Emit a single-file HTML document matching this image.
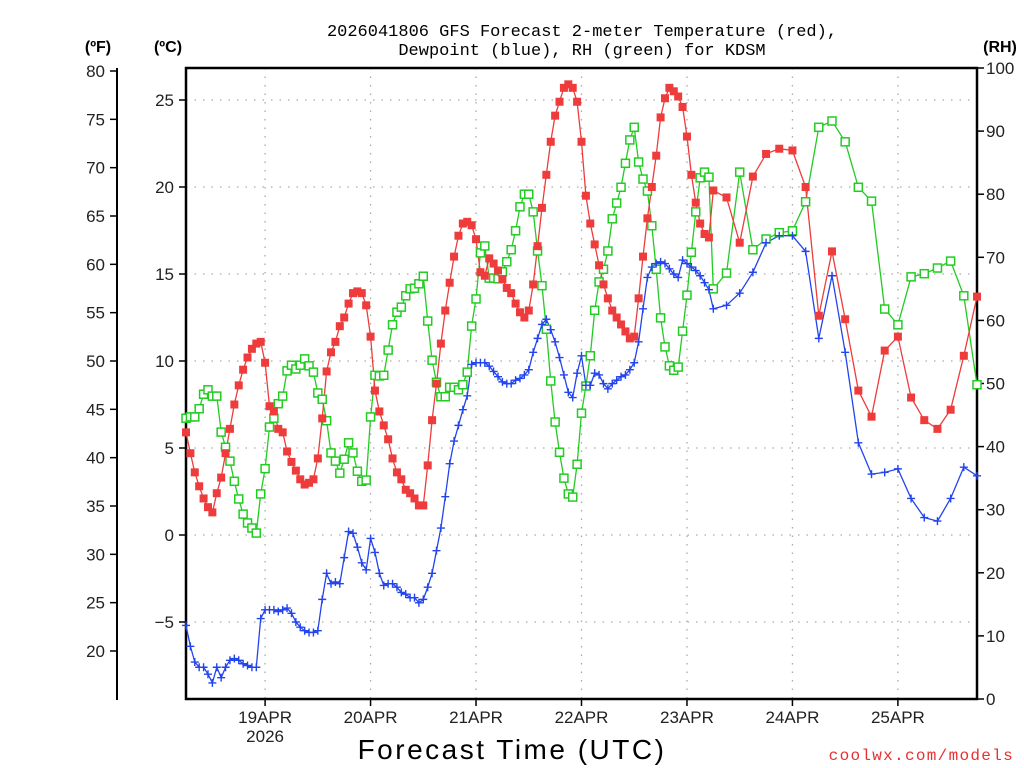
<!DOCTYPE html>
<html><head><meta charset="utf-8">
<style>
html,body{margin:0;padding:0;background:#fff;}
svg{display:block;font-family:"Liberation Sans","DejaVu Sans",sans-serif;}
</style></head>
<body>
<svg id="chart" width="1024" height="768" viewBox="0 0 1024 768" xmlns="http://www.w3.org/2000/svg">
<rect width="1024" height="768" fill="#fff"/>
<g id="grid"></g>
<g id="axes"></g>
<g id="series"></g>
<text x="582" y="36" font-size="17" text-anchor="middle" font-family="Liberation Mono, monospace">2026041806 GFS Forecast 2-meter Temperature (red),</text>
<text x="582" y="55" font-size="17" text-anchor="middle" font-family="Liberation Mono, monospace">Dewpoint (blue), RH (green) for KDSM</text>
<text x="98" y="52" font-size="16" font-weight="bold" text-anchor="middle">(ºF)</text>
<text x="168" y="52" font-size="16" font-weight="bold" text-anchor="middle">(ºC)</text>
<text x="1000" y="52" font-size="16" font-weight="bold" text-anchor="middle">(RH)</text>
<text x="512" y="759" font-size="28" text-anchor="middle" letter-spacing="2.5">Forecast Time (UTC)</text>
<text x="1014" y="760" font-size="16" fill="#e83030" text-anchor="end" letter-spacing="1.3" font-family="Liberation Mono, monospace">coolwx.com/models</text>
</svg>
<script>
// Hours since 2026041806 init
const hourlyCount = 121;
const extHours = [123,126,129,132,135,138,141,144,147,150,153,156,159,162,165,168,171,174,177,180];
const dayLabels = ["19APR","20APR","21APR","22APR","23APR","24APR","25APR"];
const dayHours = [18,42,66,90,114,138,162];
const celsiusTicks = [-5,0,5,10,15,20,25];
const fahrenheitTicks = [20,25,30,35,40,45,50,55,60,65,70,75,80];
const rhTicks = [0,10,20,30,40,50,60,70,80,90,100];

const tempC = [5.9,4.7,3.6,2.8,2.1,1.6,1.3,2.4,3.3,4.7,6.1,7.5,8.6,9.5,10.2,10.7,11.0,11.1,9.9,7.4,
7.1,6.1,5.9,4.8,4.2,3.7,3.2,2.9,3.0,3.2,4.4,6.7,9.4,10.5,11.1,12.0,12.5,13.3,13.9,14.0,
13.9,13.2,11.4,8.3,7.1,6.3,5.5,4.4,3.6,3.2,2.6,2.4,2.1,1.7,1.7,4.0,6.6,8.7,11.0,12.9,
14.5,16.0,17.2,17.9,18.0,17.8,17.0,15.1,14.9,15.9,15.6,15.2,14.7,14.2,13.9,13.3,12.8,12.5,12.9,14.4,
16.6,18.8,20.7,22.6,24.1,24.9,25.7,25.9,25.7,24.9,22.6,19.5,17.9,16.7,15.5,14.4,13.6,12.9,12.5,12.1,
11.7,11.3,11.4,13.6,16.0,18.2,20.0,21.8,24.0,25.1,25.7,25.5,25.2,24.6,22.9,20.7,19.1,17.9,17.3,17.1,
19.8,
19.4,16.8,20.6,21.9,22.2,22.1,20.0,12.6,16.3,12.4,8.3,6.8,10.6,11.4,7.9,6.6,6.1,7.2,10.3,13.7];

const dewC = [-5.2,-6.4,-7.3,-7.6,-7.6,-8.0,-8.5,-7.6,-8.2,-7.6,-7.2,-7.1,-7.2,-7.4,-7.5,-7.6,-7.6,-4.8,-4.3,-4.3,
-4.3,-4.4,-4.3,-4.2,-4.5,-5.0,-5.3,-5.5,-5.6,-5.6,-5.5,-3.7,-2.2,-2.8,-2.7,-2.8,-1.3,0.2,0.1,-0.7,
-1.6,-2.0,-0.2,-1.0,-2.2,-2.9,-2.8,-2.8,-3.0,-3.3,-3.4,-3.6,-3.6,-3.9,-3.7,-3.0,-2.2,-0.9,0.4,2.2,
4.1,5.4,6.3,7.2,8.0,9.8,9.9,9.9,9.9,9.7,9.4,9.1,8.8,8.7,8.7,8.9,9.0,9.2,9.5,10.5,
11.3,12.1,12.4,11.8,11.1,10.2,9.2,8.2,7.9,9.3,10.3,8.6,8.6,9.3,9.2,8.7,8.4,8.7,8.9,9.1,
9.2,9.5,9.9,11.1,13.0,14.8,15.4,15.6,15.7,15.6,15.3,15.0,14.8,15.8,15.6,15.4,15.2,14.9,14.5,14.1,
13.0,
13.2,13.9,15.1,16.8,17.2,17.2,16.3,11.3,14.9,10.5,5.3,3.5,3.6,3.8,2.1,1.0,0.8,2.1,3.9,3.4];

const rhPct = [44.5,44.7,44.7,46.0,48.3,49.0,48.0,48.0,42.3,39.9,37.7,34.5,31.7,29.3,27.9,27.1,26.3,32.5,36.5,43.1,
44.5,46.8,48.0,52.0,52.9,52.3,52.9,53.9,52.8,51.8,48.5,47.5,44.1,39.0,37.7,35.8,38.0,40.6,39.0,36.1,
34.5,34.7,44.7,51.3,51.2,51.3,55.3,59.3,61.3,62.1,63.9,65.0,65.1,65.8,67.0,59.9,53.7,50.2,47.9,47.9,
49.4,49.4,49.0,49.8,51.8,59.1,63.4,70.7,71.8,66.7,66.7,66.6,67.7,69.3,71.2,74.2,78.0,80.0,80.0,77.2,
71.0,65.5,58.6,50.4,43.9,39.1,35.0,32.5,32.0,37.2,45.3,49.6,54.4,61.6,66.1,68.1,71.0,76.1,78.6,81.1,
84.9,88.6,90.6,85.1,82.4,80.5,75.0,68.1,60.4,55.8,52.8,52.1,52.6,58.3,64.0,70.8,77.2,82.6,83.5,82.7,
65.0,
67.5,83.5,71.2,72.9,73.9,74.2,78.8,90.6,91.6,88.3,81.1,78.9,61.8,59.3,66.9,67.4,68.3,69.4,63.9,49.8];

// axis functions
const X0=186, X1=977, Y0=68, Y1=699;
const PXH=(X1-X0)/180;
function xh(h){return X0+h*PXH;}
function yC(c){return 535-c*17.4;}
function yF(f){return yC((f-32)*5/9);}
function yRH(r){return Y1-r*(Y1-Y0)/100;}
const hours=[];
for(let i=0;i<hourlyCount;i++)hours.push(i);
extHours.forEach(h=>hours.push(h));

const NS="http://www.w3.org/2000/svg";
function mk(tag,attrs,parent){const e=document.createElementNS(NS,tag);for(const k in attrs)e.setAttribute(k,attrs[k]);parent.appendChild(e);return e;}
const grid=document.getElementById('grid'), axes=document.getElementById('axes'), series=document.getElementById('series');

// grid
celsiusTicks.forEach(c=>{
  const l=mk('line',{x1:X0,x2:X1,y1:yC(c),y2:yC(c),stroke:'#aaa','stroke-width':1.3,'stroke-dasharray':'1.5 7'},grid);
  
  
});
dayHours.forEach(h=>{
  const l=mk('line',{x1:xh(h),x2:xh(h),y1:Y0,y2:Y1,stroke:'#aaa','stroke-width':1.3,'stroke-dasharray':'1.5 7'},grid);
  
  
});

// frame
const fr=mk('rect',{x:X0,y:Y0,width:X1-X0,height:Y1-Y0,fill:'none',stroke:'#000','stroke-width':2.5},axes);


const fa=mk('line',{x1:117,x2:117,y1:68,y2:700,stroke:'#000','stroke-width':2},axes);



celsiusTicks.forEach(c=>{
  const y=yC(c);
  mk('line',{x1:X0-7,x2:X0,y1:y,y2:y,stroke:'#000','stroke-width':1.5},axes);
  const t=mk('text',{x:X0-12,y:y+6,'font-size':17,'text-anchor':'end',fill:'#222'},axes);
  t.textContent=(c<0?'\u2212'+(-c):String(c));
  
  
});
fahrenheitTicks.forEach(f=>{
  const y=yF(f);
  mk('line',{x1:110,x2:117,y1:y,y2:y,stroke:'#000','stroke-width':1.5},axes);
  const t=mk('text',{x:105,y:y+6,'font-size':17,'text-anchor':'end',fill:'#222'},axes);
  t.textContent=String(f);
  
  
});
rhTicks.forEach(r=>{
  const y=yRH(r);
  mk('line',{x1:X1,x2:X1+7,y1:y,y2:y,stroke:'#000','stroke-width':1.5},axes);
  const t=mk('text',{x:X1+9,y:y+6,'font-size':17,'text-anchor':'start',fill:'#222'},axes);
  t.textContent=String(r);
  
  
});
dayLabels.forEach((d,i)=>{
  const x=xh(dayHours[i]);
  mk('line',{x1:x,x2:x,y1:Y1,y2:Y1+7,stroke:'#000','stroke-width':1.5},axes);
  const t=mk('text',{x:x,y:723,'font-size':17,'text-anchor':'middle',fill:'#222'},axes);
  t.textContent=d;
  
  
});
const yr=mk('text',{x:xh(18),y:742,'font-size':17,'text-anchor':'middle',fill:'#222'},axes);
yr.textContent='2026';



function line(vals,yf,color,name){
  const pts=vals.map((v,i)=>xh(hours[i]).toFixed(1)+','+yf(v).toFixed(1)).join(' ');
  const p=mk('polyline',{points:pts,fill:'none',stroke:color,'stroke-width':1.3},series);
  
  
}
line(rhPct,yRH,'#22cc22','rh-line');
line(dewC,yC,'#2244ee','dewpoint-line');
line(tempC,yC,'#ee3b3b','temperature-line');

rhPct.forEach((v,i)=>{
  const m=mk('rect',{x:xh(hours[i])-4,y:yRH(v)-4,width:8,height:8,fill:'#fff',stroke:'#22cc22','stroke-width':1.5},series);
  
  
});
dewC.forEach((v,i)=>{
  const x=xh(hours[i]),y=yC(v);
  const m=mk('path',{d:`M${x-4},${y}H${x+4}M${x},${y-4}V${y+4}`,stroke:'#2244ee','stroke-width':1.4,fill:'none'},series);
  
  
});
tempC.forEach((v,i)=>{
  const m=mk('rect',{x:xh(hours[i])-4,y:yC(v)-4,width:8,height:8,fill:'#ee3b3b'},series);
  
  
});
</script>
</body></html>
